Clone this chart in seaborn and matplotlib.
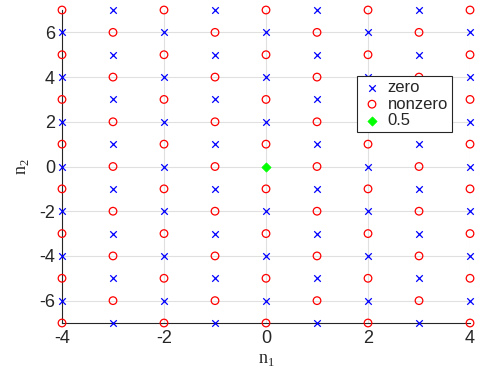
import matplotlib
matplotlib.use("Agg")
import matplotlib.pyplot as plt
import seaborn as sns
import pandas as pd

# Grid: rows n2 = 7 .. -7, columns n1 = -4 .. 4
# 'x' = zero, 'o' = nonzero, 'd' = 0.5
n1_values = [-4, -3, -2, -1, 0, 1, 2, 3, 4]
n2_values = [7, 6, 5, 4, 3, 2, 1, 0, -1, -2, -3, -4, -5, -6, -7]
grid_rows = [
    "oxoxoxoxo",
    "xoxoxoxox",
    "oxoxoxoxo",
    "xoxoxoxox",
    "oxoxoxoxo",
    "xoxoxoxox",
    "oxoxoxoxo",
    "xoxodoxox",
    "oxoxoxoxo",
    "xoxoxoxox",
    "oxoxoxoxo",
    "xoxoxoxox",
    "oxoxoxoxo",
    "xoxoxoxox",
    "oxoxoxoxo",
]
x_ticks = [-4, -2, 0, 2, 4]
y_ticks = [-6, -4, -2, 0, 2, 4, 6]

recs = []
for n2, row in zip(n2_values, grid_rows):
    for n1, c in zip(n1_values, row):
        recs.append({"n1": n1, "n2": n2, "kind": c})
df = pd.DataFrame(recs)

sns.set_style("white")
plt.rcParams["font.family"] = ["Liberation Sans", "DejaVu Sans"]
plt.rcParams["mathtext.fontset"] = "custom"
plt.rcParams["mathtext.rm"] = "Liberation Serif"

fig = plt.figure(figsize=(4.78, 3.78), dpi=100)
ax = fig.add_axes([0.1297, 0.1455, 0.8536, 0.828])

sns.scatterplot(data=df[df.kind == "x"], x="n1", y="n2", marker="x", color="blue",
                s=22, linewidth=0.9, ax=ax, label="zero", clip_on=False, zorder=3)
sns.scatterplot(data=df[df.kind == "o"], x="n1", y="n2", marker="o", facecolors="none",
                edgecolor="red", s=30, linewidth=0.9, ax=ax, label="nonzero", clip_on=False, zorder=3)
sns.scatterplot(data=df[df.kind == "d"], x="n1", y="n2", marker="D", color="#00ff00",
                edgecolor="#00ff00", s=22, linewidth=0.5, ax=ax, label="0.5", clip_on=False, zorder=3)

ax.set_xlim(-4, 4)
ax.set_ylim(-7, 7)
ax.set_xticks(x_ticks)
ax.set_yticks(y_ticks)
ax.set_xticklabels([str(v) for v in x_ticks])
ax.set_yticklabels([str(v) for v in y_ticks])
ax.tick_params(axis="both", labelsize=13, colors="#262626", length=3, direction="in", pad=5)
ax.grid(True, color="#e0e0e0", linewidth=0.8)
ax.set_axisbelow(True)
for s in ["top", "right"]:
    ax.spines[s].set_visible(False)
for s in ["left", "bottom"]:
    ax.spines[s].set_color("#262626")
    ax.spines[s].set_linewidth(0.8)

ax.set_xlabel("n$_1$", fontfamily=["Liberation Serif", "DejaVu Serif"], fontsize=13, color="#262626", labelpad=3)
ax.set_ylabel("n$_2$", fontfamily=["Liberation Serif", "DejaVu Serif"], fontsize=13, color="#262626", labelpad=6)

leg = ax.legend(loc="upper left", bbox_to_anchor=(0.723, 0.789), fontsize=12, frameon=True,
                fancybox=False, edgecolor="#262626", facecolor="white", framealpha=1.0,
                handletextpad=0.3, borderpad=0.25,
                labelspacing=0.08, handlelength=1.3, borderaxespad=0)
leg.get_frame().set_linewidth(0.8)
leg.set_zorder(10)

fig.savefig("out.png", dpi=100)
